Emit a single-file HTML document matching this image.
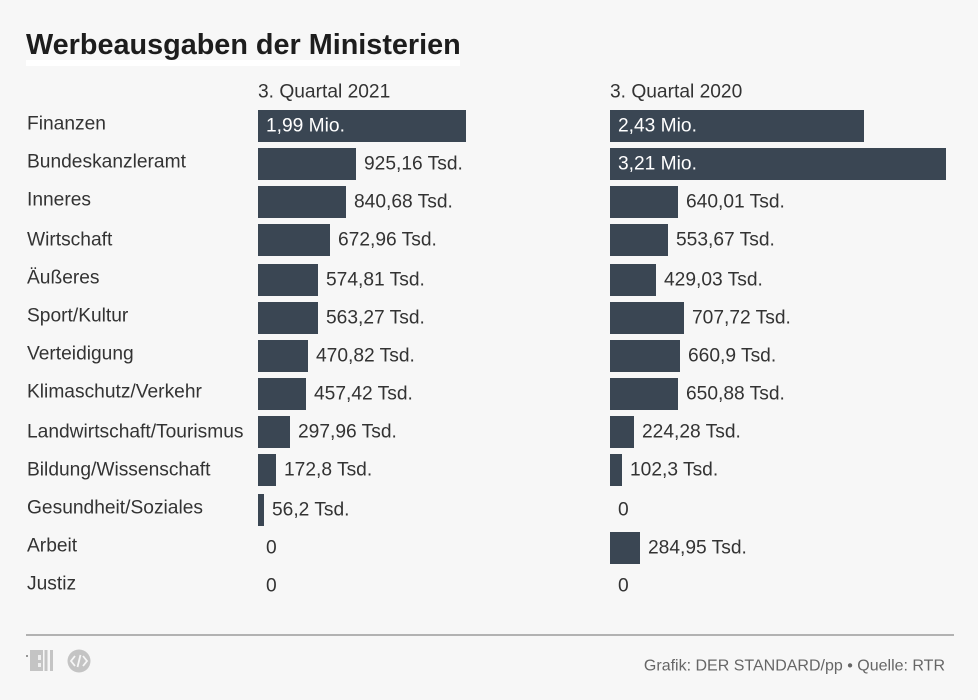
<!DOCTYPE html>
<html lang="de">
<head>
<meta charset="utf-8">
<title>Werbeausgaben der Ministerien</title>
<style>
html,body{margin:0;padding:0;background:#f7f7f7;}
body{width:978px;height:700px;overflow:hidden;}
svg{display:block;font-family:"Liberation Sans",Arial,sans-serif;}
</style>
</head>
<body>
<svg id="chart" width="978" height="700" viewBox="0 0 978 700">
  <rect x="0" y="0" width="978" height="700" fill="#f7f7f7"/>
  <rect x="26" y="60" width="434" height="6" fill="#ffffff"/>
  <text x="26" y="54" font-size="28.8" font-weight="700" fill="#1d1d1d">Werbeausgaben der Ministerien</text>
  <text x="258" y="97.5" font-size="19.2" fill="#333333">3. Quartal 2021</text>
  <text x="610" y="97.5" font-size="19.2" fill="#333333">3. Quartal 2020</text>
  <g id="rows"></g>
  <rect x="26" y="634" width="928" height="2" fill="#b2b2b2"/>
  <g fill="#c4c4c4">
    <g>
      <path d="M30 650h13v21h-13z"/>
      <path d="M38 655h3v5h-3zM38 663h3v4h-3z" fill="#efefef"/>
      <rect x="44.5" y="650" width="3" height="21"/>
      <rect x="50" y="650" width="3" height="21"/>
      <circle cx="27" cy="656" r="1" fill="#777777"/>
    </g>
    <g>
      <circle cx="79" cy="661" r="11.5"/>
      <path d="M75 656l-4 5 4 5M83 656l4 5-4 5M80.500 655l-3 12" fill="none" stroke="#f7f7f7" stroke-width="1.800"/>
    </g>
  </g>
  <text x="945" y="670.500" text-anchor="end" font-size="16" fill="#666666">Grafik: DER STANDARD/pp • Quelle: RTR</text>
</svg>
<script>
var categories = ["Finanzen","Bundeskanzleramt","Inneres","Wirtschaft","Äußeres","Sport/Kultur","Verteidigung","Klimaschutz/Verkehr","Landwirtschaft/Tourismus","Bildung/Wissenschaft","Gesundheit/Soziales","Arbeit","Justiz"];
var values2021 = [1985,925.16,840.68,672.96,574.81,563.27,470.82,457.42,297.96,172.8,56.2,0,0];
var labels2021 = ["1,99 Mio.","925,16 Tsd.","840,68 Tsd.","672,96 Tsd.","574,81 Tsd.","563,27 Tsd.","470,82 Tsd.","457,42 Tsd.","297,96 Tsd.","172,8 Tsd.","56,2 Tsd.","0","0"];
var values2020 = [2425,3210,640.01,553.67,429.03,707.72,660.9,650.88,224.28,102.3,0,284.95,0];
var labels2020 = ["2,43 Mio.","3,21 Mio.","640,01 Tsd.","553,67 Tsd.","429,03 Tsd.","707,72 Tsd.","660,9 Tsd.","650,88 Tsd.","224,28 Tsd.","102,3 Tsd.","0","284,95 Tsd.","0"];

var SVG_NS = "http://www.w3.org/2000/svg";
var rowsGroup = document.getElementById("rows");
var domainMax = 3210;
var rangeMax = 336;
var insideThreshold = 1500;

function widthScale(v) {
  if (v <= 0) return 0;
  return Math.round((v / domainMax * rangeMax) / 2 + 0.3) * 2;
}
function barTop(i) {
  return Math.round((110 + i * 38.3) / 2) * 2;
}
function categoryBaseline(i) {
  return Math.round((110 + i * 38.4) / 2) * 2 + 19.5;
}
function valueBaseline(i) {
  return barTop(i) + 21.5;
}
function addText(x, y, size, fill, content) {
  var t = document.createElementNS(SVG_NS, "text");
  t.setAttribute("x", x);
  t.setAttribute("y", y);
  t.setAttribute("font-size", size);
  t.setAttribute("fill", fill);
  t.textContent = content;
  rowsGroup.appendChild(t);
  return t;
}
function drawSeries(values, labels, x0, key) {
  values.forEach(function (v, i) {
    var w = widthScale(v);
    if (w > 0) {
      var r = document.createElementNS(SVG_NS, "rect");
      r.setAttribute("x", x0);
      r.setAttribute("y", barTop(i));
      r.setAttribute("width", w);
      r.setAttribute("height", 32);
      r.setAttribute("fill", "#3a4653");
      
      
      rowsGroup.appendChild(r);
    }
    var inside = v >= insideThreshold;
    var lx = inside ? x0 + 8 : x0 + w + 8;
    var label = addText(lx, valueBaseline(i), 19.2, inside ? "#ffffff" : "#333333", labels[i]);
    
    
  });
}
categories.forEach(function (c, i) {
  var label = addText(27, categoryBaseline(i), 19.2, "#333333", c);
  
  
});
drawSeries(values2021, labels2021, 258, "2021");
drawSeries(values2020, labels2020, 610, "2020");
</script>
</body>
</html>
